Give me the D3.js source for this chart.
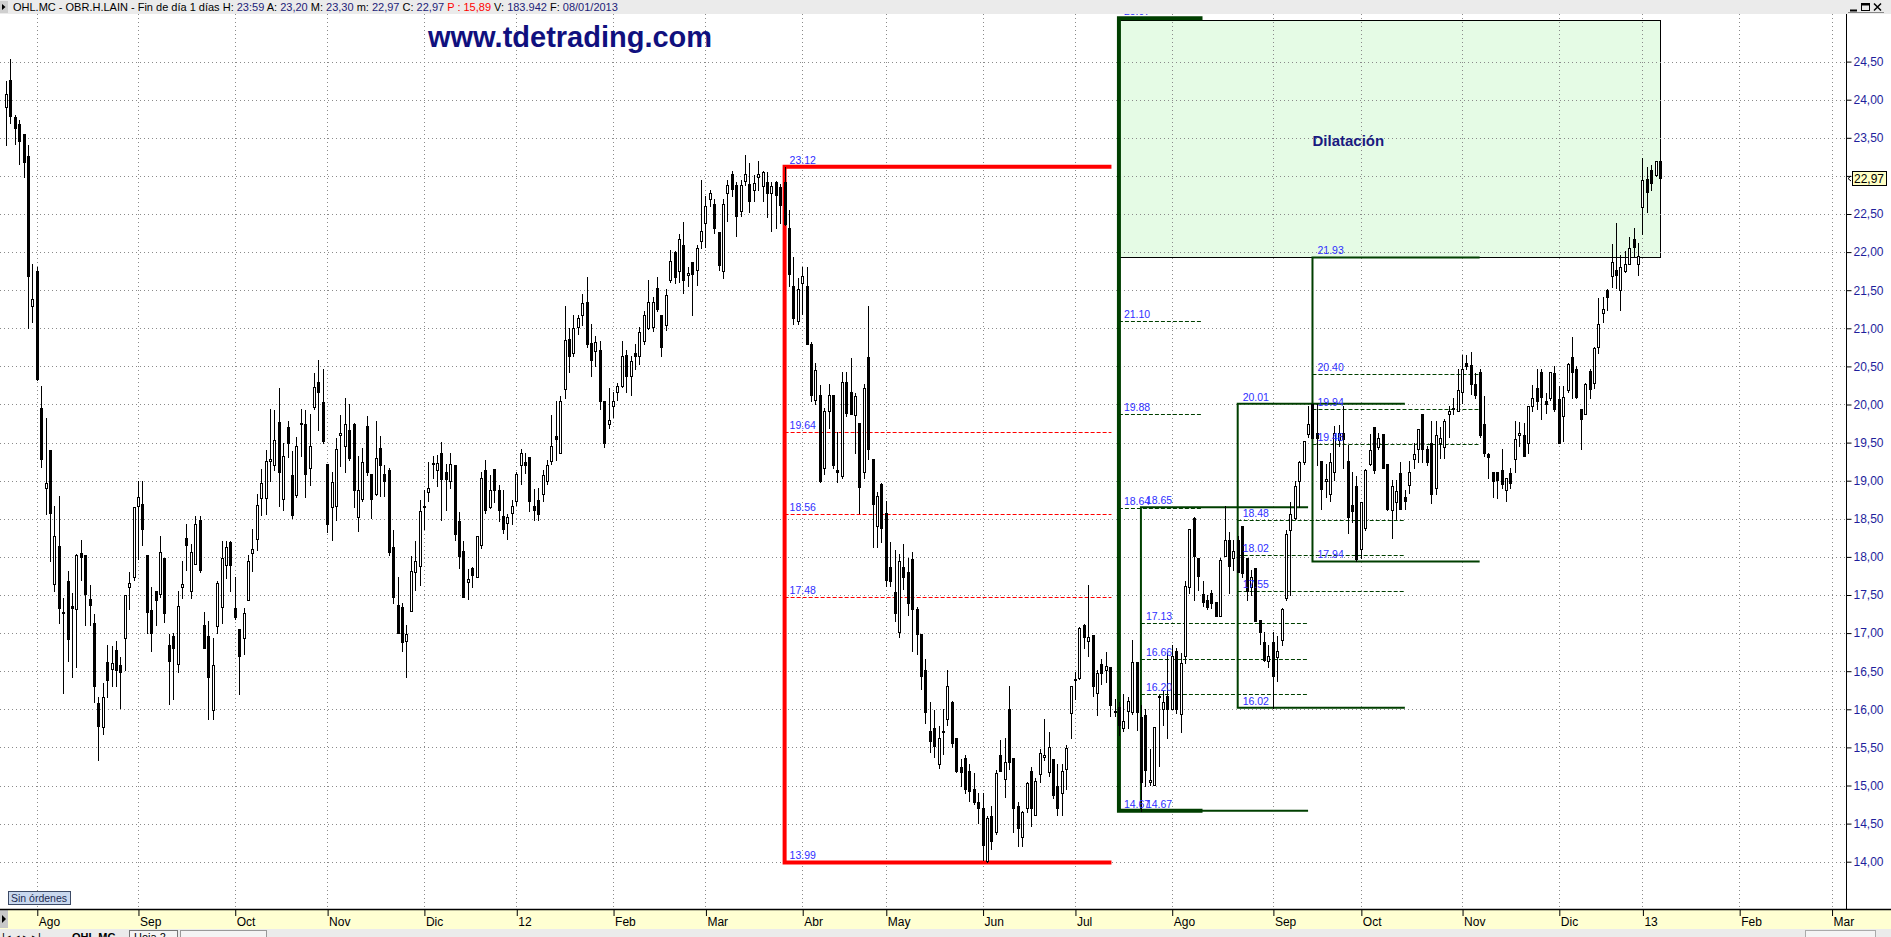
<!DOCTYPE html>
<meta charset="utf-8">
<style>
body { margin: 0; background: #fff; }
svg text { font-family: "Liberation Sans", Arial, sans-serif; }
</style>
<svg width="1891" height="937"></svg>
<script src="https://d3js.org/d3.v7.min.js"></script>
<script>

// daily bars, OHL.MC, 21/07/2011 .. 08/01/2013
var opens = [
23.90,24.26,23.77,23.68,23.55,23.26,21.29,21.75,19.95,18.90,
19.40,17.65,18.14,17.27,17.69,17.36,17.32,18.05,18.02,17.45,
17.13,16.08,15.77,16.62,16.53,16.78,16.58,16.93,17.60,17.73,
18.67,18.70,18.02,17.30,17.55,17.51,17.99,16.84,16.96,16.60,
17.60,18.25,17.55,17.91,18.48,17.11,16.96,15.99,17.09,17.34,
17.89,18.19,17.33,17.05,16.94,17.44,18.05,18.24,18.77,18.77,
19.26,19.20,19.77,18.76,19.71,19.08,18.81,19.74,19.74,19.17,
19.97,20.30,20.03,19.22,18.65,18.67,19.60,19.46,19.66,19.75,
18.52,18.76,19.72,19.09,18.83,19.43,19.09,19.14,18.13,17.37,
17.34,16.89,17.29,17.80,17.88,18.65,18.85,19.22,19.14,19.37,
19.12,18.99,19.20,18.47,18.08,17.67,17.85,17.73,18.15,19.14,
18.66,19.16,18.88,18.54,18.45,18.57,18.73,19.20,19.24,19.31,
18.67,18.75,18.83,18.99,19.26,19.59,19.36,20.20,20.86,20.68,
21.02,21.17,21.34,20.81,20.70,20.72,20.05,19.74,19.98,20.17,
20.24,20.65,20.37,20.67,20.63,20.83,21.01,21.02,21.53,21.18,
21.04,21.63,22.00,21.75,22.09,21.70,21.87,21.77,22.14,22.38,
22.70,22.63,22.26,21.75,22.77,23.02,22.88,22.54,22.93,22.89,
22.81,22.98,22.87,22.92,22.77,22.92,22.85,22.92,22.31,21.55,
21.09,21.59,21.56,20.80,20.06,20.12,19.17,19.91,20.12,19.14,
19.06,20.29,20.16,19.86,19.76,19.12,20.62,19.28,18.40,18.96,
18.58,17.87,17.54,17.01,17.87,17.80,17.97,17.31,16.99,16.52,
15.72,15.76,15.28,15.72,15.87,16.09,15.62,15.24,15.36,15.19,
14.95,14.79,14.71,14.01,14.60,14.39,15.40,15.09,16.00,15.36,
14.73,14.33,14.70,15.19,14.61,15.15,15.38,15.18,15.35,15.00,
14.90,15.22,15.95,16.38,16.41,17.10,16.90,16.97,16.22,16.59,
16.52,16.55,15.97,16.03,15.75,15.98,15.96,16.62,15.90,15.92,
15.05,15.01,16.16,16.00,16.17,16.00,16.76,15.94,16.70,17.60,
18.51,17.98,17.51,17.43,17.53,17.41,17.22,18.01,18.22,17.98,
18.22,18.40,17.98,17.60,17.85,17.17,16.88,16.63,16.88,16.69,
16.91,17.46,18.35,18.51,18.99,19.24,19.61,20.00,19.62,19.26,
19.00,18.82,19.11,19.53,19.63,19.26,18.68,18.93,18.11,18.38,
19.22,19.71,19.44,19.61,19.22,18.62,18.72,19.10,18.78,18.94,
19.28,19.42,19.88,19.42,19.49,18.90,19.50,19.44,19.88,19.94,
19.91,20.16,20.54,20.52,20.27,20.43,19.74,19.35,19.12,19.11,
19.14,18.88,19.10,19.28,19.60,19.60,19.49,19.98,20.22,20.43,
20.05,20.08,20.41,20.07,19.85,20.19,20.62,20.47,19.94,19.87,
20.44,20.28,20.75,21.20,21.50,21.69,21.77,21.50,21.75,21.85,
22.17,21.84,22.59,22.96,23.08,23.01,23.20];

var highs = [
24.25,24.54,23.80,23.73,23.55,23.41,21.85,21.81,20.24,19.82,
19.40,18.67,18.80,17.46,17.81,17.52,18.04,18.22,18.02,17.63,
17.25,16.16,16.34,16.85,16.83,16.89,16.68,17.50,17.80,18.65,
18.99,18.99,18.02,17.61,17.55,18.28,17.99,16.99,17.00,17.55,
17.95,18.43,18.17,18.54,18.54,17.28,17.16,16.94,17.69,18.21,
18.21,18.21,17.73,17.05,17.33,18.03,18.36,18.82,19.16,19.40,
19.94,19.93,20.21,19.49,19.79,19.39,19.57,19.94,19.93,19.87,
20.41,20.59,20.47,19.22,19.12,19.56,19.86,20.09,20.01,19.76,
19.33,19.43,19.85,19.09,19.79,19.59,19.21,19.17,18.35,17.73,
17.40,17.10,18.01,18.21,18.75,18.88,19.24,19.32,19.34,19.51,
19.22,19.36,19.20,18.59,18.21,17.84,17.87,18.28,19.11,19.27,
19.08,19.16,18.94,18.88,18.56,18.75,19.12,19.42,19.36,19.31,
18.89,18.91,19.14,19.27,19.86,20.04,20.11,21.29,21.01,21.17,
21.18,21.45,21.67,21.06,20.90,20.83,20.05,20.22,20.17,20.28,
20.83,20.71,20.64,20.80,21.02,21.23,21.64,21.41,21.67,21.18,
21.52,22.03,22.02,22.24,22.39,21.81,21.87,22.09,22.95,22.73,
22.82,22.70,22.26,22.70,22.94,23.06,22.92,22.94,23.27,23.17,
23.01,23.20,23.07,23.05,22.92,22.93,22.89,23.12,22.55,21.93,
21.66,21.81,21.81,20.82,20.55,20.26,19.96,20.27,20.12,19.64,
20.43,20.43,20.61,20.15,19.76,20.27,21.29,19.28,18.85,18.97,
18.73,18.19,18.09,18.04,18.17,17.99,18.06,17.34,16.99,16.66,
16.09,15.99,15.78,16.01,16.51,16.11,15.62,15.35,15.40,15.28,
15.17,14.90,14.90,14.60,14.73,15.20,15.60,15.62,16.31,15.36,
14.79,14.67,15.04,15.24,15.10,15.48,15.87,15.70,15.35,15.28,
15.28,15.53,16.30,16.49,17.08,17.12,17.63,16.97,16.51,16.66,
16.75,16.55,16.14,16.10,16.20,16.16,16.91,16.62,16.05,16.00,
15.48,15.77,16.19,16.24,16.74,16.84,16.81,16.74,17.68,18.37,
18.52,17.98,17.69,17.50,17.57,17.41,17.98,18.67,18.33,18.22,
18.27,18.40,17.98,17.83,17.85,17.17,17.02,16.84,17.01,16.96,
17.33,18.35,18.72,18.99,19.26,19.52,19.98,20.01,20.00,19.26,
19.22,19.36,19.72,19.73,19.98,19.47,19.11,19.06,18.72,19.16,
19.61,19.71,19.62,19.61,19.22,19.01,19.01,19.25,18.88,19.26,
19.49,19.68,19.88,19.45,19.79,19.79,19.71,19.81,19.98,20.08,
20.46,20.65,20.65,20.69,20.41,20.46,20.11,19.36,19.12,19.11,
19.41,19.04,19.17,19.79,19.77,19.76,19.98,20.26,20.46,20.46,
20.15,20.43,20.50,20.24,20.24,20.55,20.88,20.50,19.94,20.28,
20.47,20.75,21.40,21.41,21.51,22.10,22.38,21.96,22.01,22.20,
22.31,22.12,23.23,23.12,23.14,23.20,23.30];

var lows = [
23.40,23.69,23.42,23.16,22.98,21.00,21.08,20.32,19.18,18.56,
17.94,17.55,17.13,16.21,16.64,16.42,16.56,17.70,17.10,17.10,
16.10,15.33,15.68,16.16,16.31,16.31,16.02,16.52,17.32,17.70,
17.97,18.16,17.00,16.77,17.11,17.47,17.14,16.07,16.14,16.49,
17.46,17.83,17.46,17.91,17.80,16.81,15.87,15.87,17.00,17.13,
17.72,17.55,17.19,16.20,16.73,17.44,17.82,18.09,18.55,18.56,
18.99,19.14,18.67,18.61,19.31,18.51,18.78,19.32,18.79,18.95,
19.94,19.66,19.49,18.33,18.22,18.48,19.19,19.12,19.27,18.66,
18.34,18.73,19.08,18.51,18.81,18.80,18.80,18.02,17.39,17.00,
16.76,16.43,17.29,17.57,17.63,18.36,18.74,19.04,18.93,18.49,
18.62,18.90,18.22,17.85,17.47,17.45,17.60,17.73,18.12,18.58,
18.64,18.72,18.47,18.32,18.24,18.43,18.68,18.96,19.10,18.60,
18.49,18.49,18.74,18.96,19.22,19.27,19.36,20.08,20.43,20.63,
20.92,21.04,20.75,20.37,20.50,19.94,19.44,19.69,19.83,20.06,
20.23,20.17,20.12,20.47,20.53,20.80,20.99,20.96,21.23,20.63,
20.98,21.61,21.60,21.61,21.46,21.55,21.18,21.57,22.06,22.07,
22.61,22.25,21.77,21.66,22.41,22.74,22.21,22.48,22.88,22.52,
22.67,22.82,22.67,22.46,22.28,22.31,22.38,22.35,21.56,21.06,
21.06,21.19,20.80,20.05,20.00,18.98,19.09,19.69,19.17,18.98,
19.04,19.85,19.87,19.36,18.58,19.03,19.28,18.13,18.13,18.19,
17.62,17.62,17.16,16.95,17.58,17.24,16.77,16.72,16.27,15.82,
15.44,15.38,15.23,15.41,15.80,15.51,15.18,14.99,14.90,14.80,
14.76,14.51,14.02,13.99,14.17,14.37,15.19,14.85,15.21,14.39,
14.20,14.20,14.65,14.47,14.61,15.04,15.33,15.13,14.83,14.61,
14.61,14.95,15.62,16.13,16.40,16.80,16.70,16.18,15.92,16.33,
16.36,15.91,15.91,15.66,15.72,15.75,15.94,15.73,14.67,15.00,
15.01,15.01,15.25,15.80,15.62,16.00,15.95,15.70,16.61,17.53,
17.43,17.57,17.36,17.31,17.33,17.22,17.22,18.01,17.53,17.83,
17.80,17.73,17.43,17.50,17.16,16.86,16.64,16.55,16.02,16.37,
16.84,17.43,17.50,18.50,18.66,19.22,19.57,19.56,19.21,18.63,
18.78,18.74,19.01,19.45,19.17,18.32,18.46,17.94,17.98,18.35,
19.21,19.10,19.41,19.17,18.61,18.25,18.50,18.63,18.63,18.84,
19.17,19.24,19.24,19.20,18.71,18.83,19.30,19.30,19.58,19.88,
19.91,20.02,20.46,20.14,20.08,19.58,19.33,19.04,18.79,18.77,
18.90,18.74,18.90,19.12,19.45,19.33,19.36,19.92,19.94,19.81,
19.89,20.06,19.91,19.50,19.52,20.17,20.08,20.08,19.41,19.87,
20.08,20.22,20.67,21.08,21.24,21.54,21.53,21.24,21.74,21.85,
21.94,21.70,22.24,22.52,22.81,23.00,22.97];

var closes = [
24.08,23.78,23.63,23.46,23.18,21.69,21.38,20.34,19.28,18.97,
18.58,18.27,17.33,17.28,16.92,17.33,18.02,18.00,17.51,17.37,
16.31,15.78,16.16,16.38,16.61,16.52,16.49,17.50,17.66,18.65,
18.78,18.37,17.28,17.00,17.43,18.06,17.27,16.64,16.80,17.36,
17.65,18.15,18.07,18.43,17.83,16.81,16.43,16.58,17.66,17.98,
18.13,17.89,17.21,16.70,17.27,17.94,18.10,18.68,18.97,19.26,
19.29,19.53,19.11,19.32,19.49,18.55,19.46,19.76,19.09,19.45,
20.23,20.16,19.52,18.43,18.98,19.42,19.62,19.74,19.30,18.88,
18.88,19.24,19.11,18.76,19.30,19.21,19.00,18.07,17.48,17.00,
16.88,16.99,17.82,17.95,18.60,18.67,18.91,19.23,19.23,19.02,
19.02,19.22,18.30,18.01,17.47,17.71,17.76,18.27,19.04,18.62,
18.88,18.88,18.62,18.37,18.53,18.67,19.09,19.37,19.20,18.74,
18.62,18.56,19.08,19.20,19.46,19.55,20.05,20.84,20.63,21.01,
21.14,21.33,20.80,20.58,20.82,20.05,19.50,19.80,20.05,20.24,
20.64,20.37,20.57,20.63,20.95,21.18,21.34,21.34,21.25,20.76,
21.44,21.88,21.67,22.17,21.64,21.72,21.71,22.06,22.28,22.60,
22.77,22.32,21.83,22.63,22.88,22.83,22.47,22.88,23.02,22.67,
22.91,23.02,23.05,22.77,22.87,22.75,22.62,22.37,21.71,21.13,
21.51,21.68,20.80,20.12,20.45,19.00,19.91,20.12,19.20,19.12,
20.29,19.89,19.87,20.11,18.92,20.21,19.41,18.70,18.80,18.38,
17.70,17.69,17.27,17.94,17.73,17.40,17.32,16.99,16.44,15.97,
15.58,15.52,15.62,15.70,16.30,15.56,15.19,15.18,14.95,14.93,
14.78,14.71,14.22,14.58,14.27,15.16,15.19,15.31,15.31,14.70,
14.44,14.65,15.03,14.70,15.06,15.43,15.40,15.50,14.88,14.70,
15.19,15.49,16.30,16.40,17.07,16.95,16.95,16.30,16.47,16.48,
16.57,16.05,15.98,15.80,15.84,16.11,16.62,15.96,15.05,15.20,
15.07,15.77,16.17,16.09,16.00,16.70,16.00,16.61,17.62,18.37,
18.01,17.75,17.41,17.34,17.39,17.22,17.96,18.22,17.88,18.08,
17.80,17.79,17.55,17.73,17.16,17.01,16.65,16.70,16.44,16.77,
17.32,18.30,18.56,18.93,19.24,19.52,19.74,19.56,19.56,18.89,
19.02,19.24,19.63,19.63,19.55,18.52,18.60,17.97,18.72,19.14,
19.40,19.14,19.56,19.17,18.63,18.93,18.87,18.63,18.73,19.11,
19.35,19.68,19.41,19.24,18.83,19.60,19.56,19.79,19.91,19.96,
20.19,20.47,20.51,20.27,20.12,19.60,19.37,19.31,19.00,19.01,
18.96,19.04,18.97,19.55,19.63,19.33,19.98,20.09,20.04,20.10,
20.00,20.43,19.94,19.50,20.10,20.53,20.43,20.10,19.81,20.27,
20.20,20.74,21.05,21.25,21.41,21.87,21.70,21.80,21.85,22.05,
22.07,21.95,22.95,22.79,22.91,23.19,22.97];

// month starts (bar index) and their labels
var monthLabels = ["Ago","Sep","Oct","Nov","Dic","12","Feb","Mar","Abr","May",
                   "Jun","Jul","Ago","Sep","Oct","Nov","Dic","13","Feb","Mar"];
var monthBars = [7,30,52,73,95,116,138,159,181,200,222,243,265,288,308,331,353,372,394,415];

var priceTicks = d3.range(14, 24.51, 0.5);

// fibonacci structures: bar where it starts/ends, swing high, swing low, levels
var fibStart = [177, 253, 258, 280, 297];
var fibEnd   = [251.3, 272, 296, 318, 335];
var fibHigh  = [23.12, 25.07, 18.65, 20.01, 21.93];
var fibLow   = [13.99, 14.67, 14.67, 16.02, 17.94];
var fibLevels = [
  [19.64, 18.56, 17.48],
  [21.10, 19.88, 18.64],
  [17.13, 16.66, 16.20],
  [18.48, 18.02, 17.55],
  [20.40, 19.94, 19.48]
];

// "Dilatación" zone
var dilatBars = [253, 376];
var dilatPrices = [21.93, 25.04];

var lastPrice = 22.97;

var svg = d3.select("svg"),
    width = +svg.attr("width"),
    height = +svg.attr("height");

var axisX = 1846, plotTop = 14, plotBottom = 909;

var x = d3.scaleLinear().domain([0, 376]).range([6, 1660]);
var y = d3.scaleLinear().domain([13, 25]).range([937.9, 23.5]);

var bars = closes.map(function(c, i) {
  return {i: i, o: opens[i], h: highs[i], l: lows[i], c: c};
});

function px(v) { return Math.round(v) + 0.5; }

svg.append("rect").attr("width", width).attr("height", height).attr("fill", "#fff");

// dilatacion box (under the grid)
svg.append("rect")
    .attr("x", px(x(dilatBars[0])))
    .attr("y", px(y(dilatPrices[1])))
    .attr("width", Math.round(x(dilatBars[1]) - x(dilatBars[0])))
    .attr("height", Math.round(y(dilatPrices[0]) - y(dilatPrices[1])))
    .attr("fill", "#e5fbe5")
    .attr("stroke", "#000")
    .attr("stroke-width", 1);

// grid
var grid = svg.append("g").attr("stroke", "#8a8a8a").attr("stroke-dasharray", "1,3");
grid.selectAll(".h").data(priceTicks).enter().append("line")
    .attr("x1", 0).attr("x2", axisX)
    .attr("y1", function(d) { return px(y(d)); })
    .attr("y2", function(d) { return px(y(d)); });
grid.selectAll(".v").data(monthBars).enter().append("line")
    .attr("y1", plotTop).attr("y2", plotBottom)
    .attr("x1", function(d) { return px(x(d)); })
    .attr("x2", function(d) { return px(x(d)); });

// fibonacci structures
var fib = svg.append("g");
fibStart.forEach(function(s, k) {
  var col = k == 0 ? "#ff0000" : "#003f00";
  var w = k < 2 ? 4 : 2;
  var x0 = x(s), x1 = x(fibEnd[k]);
  var g = fib.append("g");
  fibLevels[k].forEach(function(lv) {
    g.append("line")
      .attr("x1", x0).attr("x2", x1)
      .attr("y1", px(y(lv))).attr("y2", px(y(lv)))
      .attr("stroke", col).attr("stroke-width", 1)
      .attr("stroke-dasharray", "4,2");
  });
  g.append("path")
    .attr("d", "M" + x1 + "," + y(fibHigh[k]) + "H" + x0 + "V" + y(fibLow[k]) + "H" + x1)
    .attr("fill", "none")
    .attr("stroke", col)
    .attr("stroke-width", w);
});

// candles
var candle = svg.append("g").selectAll("g").data(bars).enter().append("g");
candle.append("line")
    .attr("x1", function(d) { return px(x(d.i)); })
    .attr("x2", function(d) { return px(x(d.i)); })
    .attr("y1", function(d) { return Math.round(y(d.h)); })
    .attr("y2", function(d) { return Math.round(y(d.l)) + 1; })
    .attr("stroke", "#000");
candle.append("rect")
    .attr("x", function(d) { return d.c >= d.o ? Math.round(x(d.i)) - 0.5 : Math.round(x(d.i)) - 1; })
    .attr("y", function(d) {
      var t = Math.round(y(Math.max(d.o, d.c)));
      return d.c >= d.o ? t + 0.5 : t;
    })
    .attr("width", function(d) { return d.c >= d.o ? 2 : 3; })
    .attr("height", function(d) {
      var h = Math.round(y(Math.min(d.o, d.c))) - Math.round(y(Math.max(d.o, d.c)));
      return Math.max(d.c >= d.o ? h : h + 1, 1);
    })
    .attr("fill", function(d) { return d.c >= d.o ? "#fff" : "#000"; })
    .attr("stroke", function(d) { return d.c >= d.o ? "#000" : "none"; });

// level labels
var fmt = d3.format(".2f");
var labels = svg.append("g").attr("font-size", "10.5px").attr("fill", "#2f2fff");
fibStart.forEach(function(s, k) {
  var vals = [fibHigh[k]].concat(fibLevels[k]).concat([fibLow[k]]);
  vals.forEach(function(v) {
    labels.append("text")
      .attr("x", x(s) + 5)
      .attr("y", y(v) - 3)
      .text(fmt(v));
  });
});

svg.append("text")
    .attr("x", x(297)).attr("y", y(23.39))
    .attr("font-size", "15px").attr("font-weight", "bold")
    .attr("fill", "#1a1a80")
    .text("Dilatación");

svg.append("text")
    .attr("x", 428).attr("y", 47)
    .attr("font-size", "29px").attr("font-weight", "bold")
    .attr("fill", "#10107e")
    .text("www.tdetrading.com");

// right price axis
var yAxis = d3.axisRight(y)
    .tickValues(priceTicks)
    .tickSize(5)
    .tickPadding(2)
    .tickFormat(function(d) { return fmt(d).replace(".", ","); });
var ya = svg.append("g").attr("transform", "translate(" + (axisX + 0.5) + ",0)").call(yAxis);
ya.select(".domain").remove();
ya.selectAll("text").attr("font-size", "12px").attr("fill", "#1e1e9c")
    .attr("font-family", "Liberation Sans, Arial, sans-serif");
ya.selectAll(".tick line").attr("stroke", "#000");
svg.append("line")
    .attr("x1", axisX + 0.5).attr("x2", axisX + 0.5)
    .attr("y1", plotTop).attr("y2", plotBottom)
    .attr("stroke", "#000");

// last price marker
var ly = Math.round(y(lastPrice));
svg.append("rect")
    .attr("x", 1852.5).attr("y", ly - 6.5).attr("width", 34).attr("height", 14)
    .attr("fill", "#ffffc4").attr("stroke", "#000");
svg.append("text")
    .attr("x", 1854).attr("y", ly + 5)
    .attr("font-size", "12px").attr("fill", "#000")
    .text(fmt(lastPrice).replace(".", ","));
svg.append("path")
    .attr("d", "M1851," + (ly - 2) + "L1848," + (ly + 0.5) + "L1851," + (ly + 3))
    .attr("fill", "none").attr("stroke", "#000");

// bottom date axis
svg.append("rect").attr("x", 0).attr("y", plotBottom).attr("width", width).attr("height", 20)
    .attr("fill", "#ffffd2");
svg.append("rect").attr("x", 0).attr("y", plotBottom + 1).attr("width", 8).attr("height", 18)
    .attr("fill", "#c8c8c8");
svg.append("path").attr("d", "M2," + (plotBottom + 6) + "L6," + (plotBottom + 10) + "L2," + (plotBottom + 14) + "Z")
    .attr("fill", "#000");
svg.append("line")
    .attr("x1", 0).attr("x2", width)
    .attr("y1", plotBottom + 0.5).attr("y2", plotBottom + 0.5)
    .attr("stroke", "#000").attr("stroke-width", 1.5);

var xAxis = d3.axisBottom(x)
    .tickValues(monthBars)
    .tickSize(7)
    .tickFormat(function(d, i) { return monthLabels[i]; });
var xa = svg.append("g").attr("transform", "translate(0.5," + plotBottom + ")").call(xAxis);
xa.select(".domain").remove();
xa.selectAll(".tick line").attr("stroke", "#000");
xa.selectAll("text")
    .attr("text-anchor", "start")
    .attr("x", 1).attr("y", 8).attr("dy", "0.71em")
    .attr("font-size", "12px").attr("fill", "#000")
    .attr("font-family", "Liberation Sans, Arial, sans-serif");

// sheet tabs strip at the very bottom
svg.append("rect").attr("x", 0).attr("y", 929).attr("width", width).attr("height", 8).attr("fill", "#ebebeb");
var tabs = svg.append("g").attr("font-size", "11px");
tabs.append("text").attr("x", 2).attr("y", 941).text("|◂ ◂ ▸ ▸|");
tabs.append("text").attr("x", 72).attr("y", 941).attr("font-weight", "bold").text("OHL.MC");
tabs.append("rect").attr("x", 129.5).attr("y", 930.5).attr("width", 48).attr("height", 12)
    .attr("fill", "#f4f4f4").attr("stroke", "#777");
tabs.append("text").attr("x", 134).attr("y", 941).text("Hoja 2");
tabs.append("rect").attr("x", 180.5).attr("y", 930.5).attr("width", 86).attr("height", 12)
    .attr("fill", "#f4f4f4").attr("stroke", "#999");
tabs.append("rect").attr("x", 1805.5).attr("y", 930.5).attr("width", 70).attr("height", 12)
    .attr("fill", "#f4f4f4").attr("stroke", "#aaa");

// "Sin órdenes"
svg.append("rect").attr("x", 8.5).attr("y", 891.5).attr("width", 62).attr("height", 13)
    .attr("fill", "#c9d8ee").attr("stroke", "#3c4a66");
svg.append("text").attr("x", 11).attr("y", 902).attr("font-size", "10.5px").attr("fill", "#1c2a50")
    .text("Sin órdenes");

// header bar (drawn last, covers the top label)
svg.append("rect").attr("width", width).attr("height", plotTop).attr("fill", "#ebebeb");
svg.append("rect").attr("x", 0).attr("y", 1).attr("width", 8).attr("height", 12).attr("fill", "#cfcfcf");
svg.append("path").attr("d", "M2,4L5.5,7L2,10Z").attr("fill", "#000");

var header = svg.append("text").attr("x", 13).attr("y", 11)
    .attr("font-size", "11px").attr("fill", "#000");
var parts = [
  ["OHL.MC - OBR.H.LAIN - Fin de día 1 días ", "#000"],
  ["H: ", "#000"], ["23:59 ", "#1c1c78"],
  ["A: ", "#000"], ["23,20 ", "#1c1c78"],
  ["M: ", "#000"], ["23,30 ", "#1c1c78"],
  ["m: ", "#000"], ["22,97 ", "#1c1c78"],
  ["C: ", "#000"], ["22,97 ", "#1c1c78"],
  ["P : 15,89 ", "#ff0000"],
  ["V: ", "#000"], ["183.942 ", "#1c1c78"],
  ["F: ", "#000"], ["08/01/2013", "#1c1c78"]
];
parts.forEach(function(p) {
  header.append("tspan").attr("fill", p[1]).attr("xml:space", "preserve").text(p[0]);
});

// window buttons
var btn = svg.append("g").attr("stroke", "#000").attr("fill", "none");
btn.append("line").attr("x1", 1850).attr("x2", 1857).attr("y1", 10.5).attr("y2", 10.5).attr("stroke-width", 2);
btn.append("rect").attr("x", 1861.5).attr("y", 3.5).attr("width", 8).attr("height", 7);
btn.append("line").attr("x1", 1861.5).attr("x2", 1869.5).attr("y1", 4.5).attr("y2", 4.5).attr("stroke-width", 2);
btn.append("path").attr("d", "M1874,3.5L1881,10.5M1881,3.5L1874,10.5").attr("stroke-width", 1.5);
btn.append("line").attr("x1", 1848).attr("x2", 1884).attr("y1", 12.5).attr("y2", 12.5).attr("stroke", "#888");

</script>
